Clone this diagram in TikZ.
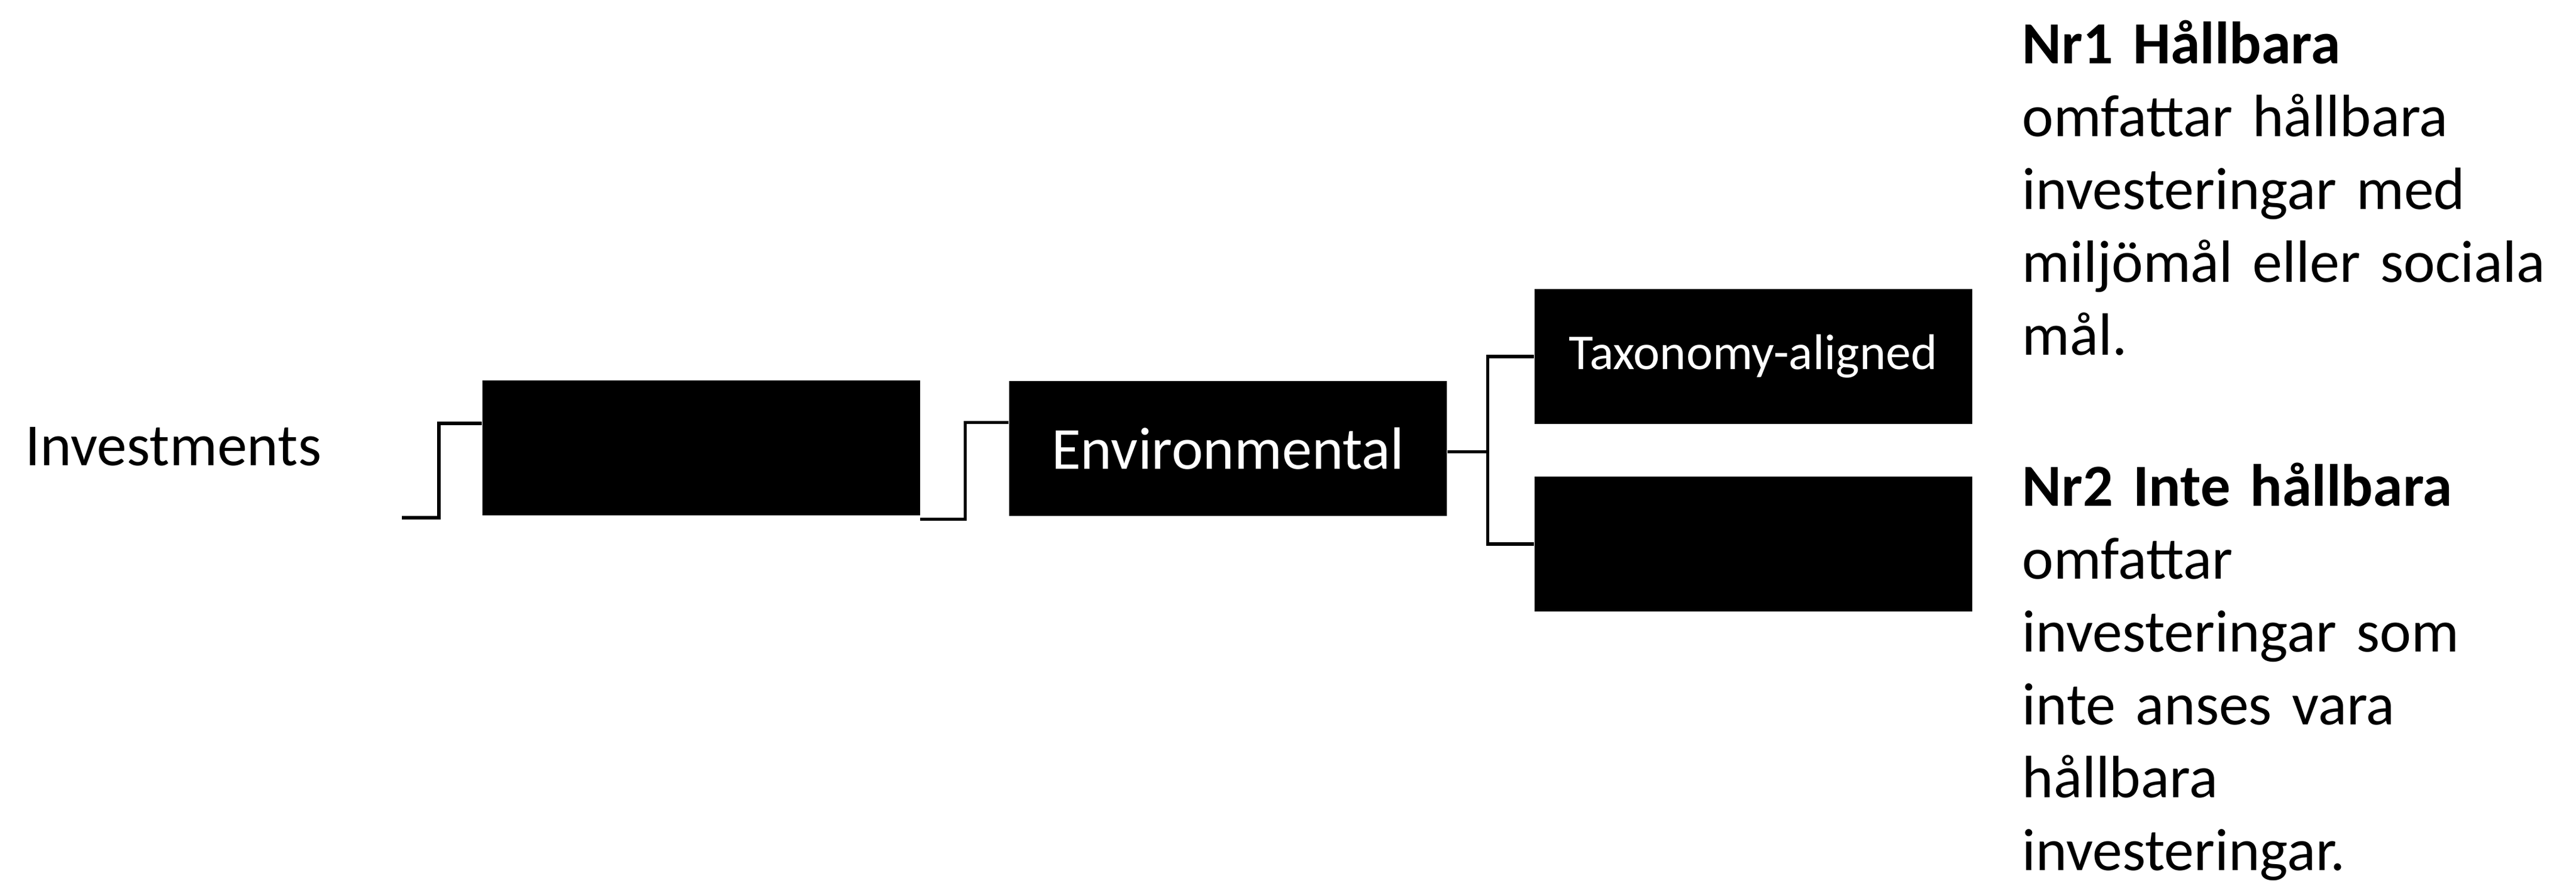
\documentclass[tikz,border=0pt]{standalone}
\usepackage{fontspec}
\setmainfont{Carlito}

\tikzset{
    blackbox/.style={fill=black,text=white,minimum width=7.33cm,minimum height=2.26cm,inner sep=0pt,font=\fontsize{28.45}{34.7}\selectfont},
    link/.style={line width=1.45pt,black},
    plain/.style={inner sep=0pt,font=\fontsize{28.45}{34.7}\selectfont},
    blurb/.style={plain,text width=9.5cm,align=left}
}

\begin{document}
\begin{tikzpicture}
    		\useasboundingbox (0,0) rectangle (43.14,14.87);
    		\node[plain,anchor=base west] (inv) at (0.42,7.07) {Investments};
    		\node[blackbox] (box1) at (11.74,7.37) {};
    		\node[blackbox] (env) at (20.565,7.355) {Environmental};
    		\node[blackbox,font=\fontsize{23.9}{28}\selectfont] (tax) at (29.36,8.90) {Taxonomy-aligned};
    		\node[blackbox] (other) at (29.36,5.76) {};
    		\node[blurb,anchor=base west] (nr1) at (33.86,13.80) {\textbf{Nr1 Hållbara}\\omfattar hållbara\\investeringar med\\miljömål eller sociala\\mål.};
    		\node[blurb,anchor=base west] (nr2) at (33.86,6.39) {\textbf{Nr2 Inte hållbara}\\omfattar\\investeringar som\\inte anses vara\\hållbara\\investeringar.};
    		\coordinate (invout) at (6.73,6.20);
    		\draw[link] (invout) -- ++(0.62,0) |- ([yshift=4.1mm]box1.west);
    		\draw[link] ([yshift=-0.6mm]box1.south east) -- ++(0.75,0) |- ([yshift=4.4mm]env.west);
    		\draw[link] ([yshift=-0.5mm]env.east) -- ++(0.68,0) coordinate (fork);
    		\draw[link] (tax.west) -| (fork) |- (other.west);
    		\end{tikzpicture}
\end{document}
